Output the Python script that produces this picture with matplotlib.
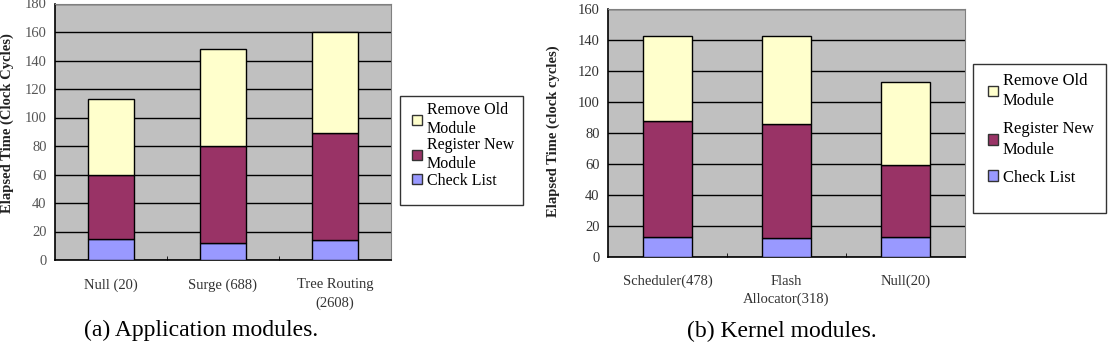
import matplotlib
matplotlib.use("Agg")
import matplotlib.pyplot as plt
from matplotlib.patches import Rectangle, Patch
import numpy as np

plt.rcParams['font.family'] = ['Liberation Serif', 'DejaVu Serif']

# (a) application modules
app_names = ['Null (20)', 'Surge (688)', 'Tree Routing\n(2608)']
app_check = [15, 12, 14]
app_register = [45, 68, 75]
app_remove = [53, 68, 71]

# (b) kernel modules
kern_names = ['Scheduler(478)', 'Flash\nAllocator(318)', 'Null(20)']
kern_check = [13, 12, 13]
kern_register = [75, 74, 46]
kern_remove = [55, 57, 54]

series_labels = ['Remove Old\nModule', 'Register New\nModule', 'Check List']
C_REMOVE = '#FFFFCC'
C_REGISTER = '#993366'
C_CHECK = '#9999FF'
W, H = 1108, 346


def stacked(ax, names, check, register, remove, ymax, ylabel_color):
    x = np.arange(len(names))
    check = np.array(check)
    register = np.array(register)
    remove = np.array(remove)
    kw = dict(width=0.41, edgecolor='black', linewidth=1, zorder=3)
    ax.bar(x, check, color=C_CHECK, **kw)
    ax.bar(x, register, bottom=check, color=C_REGISTER, **kw)
    ax.bar(x, remove, bottom=check + register, color=C_REMOVE, **kw)
    ax.set_facecolor('#C0C0C0')
    ax.set_xlim(-0.5, len(names) - 0.5)
    ax.set_ylim(0, ymax)
    ax.set_yticks(np.arange(0, ymax + 1, 20))
    ax.yaxis.grid(True, color='black', linewidth=1)
    ax.set_axisbelow(True)
    ax.set_xticks(x)
    ax.set_xticklabels(names, fontsize=10.5, color='#333333', linespacing=1.5)
    ax.set_xticks(np.arange(0.5, len(names) - 1, 1), minor=True)
    ax.tick_params(axis='x', which='major', length=0, pad=13)
    ax.tick_params(axis='x', which='minor', length=3, direction='in')
    ax.tick_params(axis='y', length=0, pad=6, labelsize=10.5, labelcolor=ylabel_color)
    for s in ['top', 'right']:
        ax.spines[s].set_color('#808080')
    for s in ['left', 'bottom']:
        ax.spines[s].set_color('black')
        ax.spines[s].set_linewidth(1.2)


fig = plt.figure(figsize=(W / 100, H / 100), dpi=100)
fig.patch.set_facecolor('white')

ax1 = fig.add_axes([55 / W, 1 - 260 / H, 336 / W, 256.5 / H])
stacked(ax1, app_names, app_check, app_register, app_remove, 180, '#555555')

ax2 = fig.add_axes([608 / W, 1 - 256.7 / H, 357 / W, 247.4 / H])
stacked(ax2, kern_names, kern_check, kern_register, kern_remove, 160, '#333333')

fig.text(7 / W, 1 - 123 / H, 'Elapsed Time (Clock Cycles)', rotation=90,
         ha='center', va='center', fontsize=10.5, fontweight='bold', color='#222222')
fig.text(553 / W, 1 - 131 / H, 'Elapsed Time (clock cycles)', rotation=90,
         ha='center', va='center', fontsize=10.5, fontweight='bold', color='#222222')

fig.text(201 / W, 1 - 330 / H, '(a) Application modules.', ha='center', va='center', fontsize=17)
fig.text(782 / W, 1 - 331 / H, '(b) Kernel modules.', ha='center', va='center', fontsize=17)

handles = [Patch(facecolor=c, edgecolor='#333333') for c in (C_REMOVE, C_REGISTER, C_CHECK)]

# legend frames
for (x0, y0, x1, y1) in [(400, 96, 523, 205), (973, 64, 1106, 213)]:
    fig.patches.append(Rectangle((x0 / W, 1 - y1 / H), (x1 - x0) / W, (y1 - y0) / H,
                                 transform=fig.transFigure, facecolor='white',
                                 edgecolor='#333333', linewidth=1, zorder=1))

leg1 = fig.legend(handles, series_labels, loc='upper left', bbox_to_anchor=(401 / W, 1 - 91 / H),
                  frameon=False, fontsize=11.5, handlelength=0.6, handleheight=0.6,
                  handletextpad=0.3, labelspacing=0.05, borderpad=0.2)
for t in leg1.get_texts():
    t.set_linespacing(1.2)
leg2 = fig.legend(handles, series_labels, loc='upper left', bbox_to_anchor=(976 / W, 1 - 61 / H),
                  frameon=False, fontsize=12, handlelength=0.6, handleheight=0.6,
                  handletextpad=0.3, labelspacing=0.7, borderpad=0.2)
for t in leg2.get_texts():
    t.set_linespacing(1.4)

fig.savefig('out.png', dpi=100, facecolor='white')
